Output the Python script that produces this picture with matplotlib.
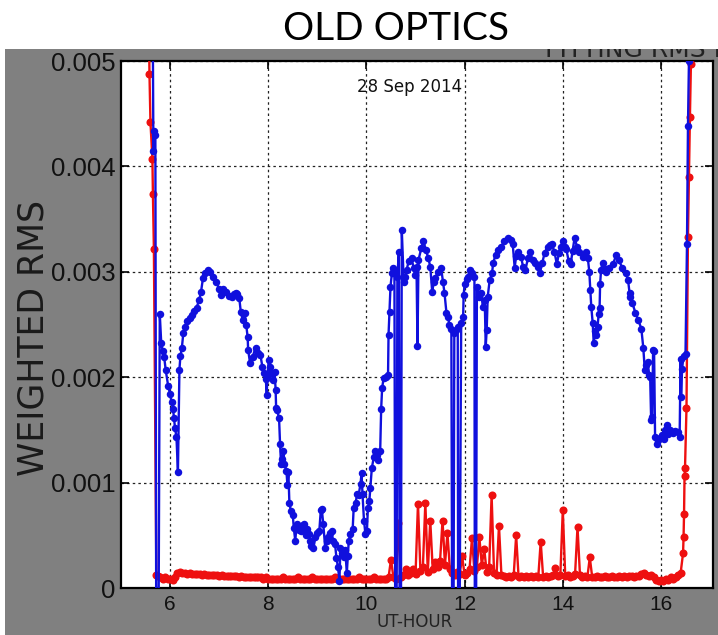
import numpy as np
import matplotlib
matplotlib.use("Agg")
import matplotlib.pyplot as plt
from matplotlib.patches import Rectangle

# ---------------- data (RMS values in units of 1e-3) ----------------
blue_hours = [
    5.60, 5.64, 5.66, 5.68, 5.70, 5.72, 5.76, 5.79, 5.82, 5.85,
    5.88, 5.91, 5.96, 6.00, 6.03, 6.06, 6.08, 6.10, 6.13, 6.16,
    6.19, 6.21, 6.24, 6.27, 6.31, 6.35, 6.40, 6.45, 6.49, 6.54,
    6.59, 6.63, 6.67, 6.72, 6.77, 6.82, 6.88, 6.94, 7.00, 7.04,
    7.08, 7.14, 7.20, 7.26, 7.31, 7.34, 7.37, 7.41, 7.44, 7.48,
    7.52, 7.55, 7.58, 7.59, 7.63, 7.68, 7.74, 7.79, 7.84, 7.88,
    7.91, 7.95, 7.97, 7.98, 8.01, 8.04, 8.06, 8.10, 8.13, 8.15,
    8.16, 8.18, 8.22, 8.24, 8.26, 8.29, 8.31, 8.33, 8.37, 8.39,
    8.41, 8.43, 8.46, 8.50, 8.52, 8.55, 8.58, 8.62, 8.66, 8.70,
    8.72, 8.76, 8.78, 8.82, 8.85, 8.87, 8.92, 8.96, 8.99, 9.04,
    9.07, 9.09, 9.12, 9.16, 9.19, 9.22, 9.26, 9.29, 9.32, 9.36,
    9.39, 9.42, 9.45, 9.47, 9.50, 9.54, 9.57, 9.60, 9.62, 9.64,
    9.67, 9.72, 9.74, 9.78, 9.81, 9.84, 9.88, 9.90, 9.92, 9.95,
    9.98, 10.01, 10.03, 10.06, 10.08, 10.11, 10.15, 10.18, 10.21, 10.24,
    10.28, 10.30, 10.32, 10.35, 10.40, 10.44, 10.45, 10.47, 10.49, 10.52,
    10.54, 10.57, 10.59, 10.61, 10.63, 10.66, 10.68, 10.70, 10.72, 10.76,
    10.79, 10.82, 10.86, 10.92, 10.96, 10.99, 11.02, 11.04, 11.06, 11.12,
    11.16, 11.21, 11.26, 11.30, 11.34, 11.37, 11.40, 11.46, 11.52, 11.56,
    11.59, 11.63, 11.66, 11.69, 11.73, 11.75, 11.77, 11.79, 11.82, 11.86,
    11.87, 11.89, 11.93, 11.97, 11.98, 12.00, 12.04, 12.07, 12.10, 12.15,
    12.20, 12.21, 12.23, 12.25, 12.29, 12.34, 12.37, 12.41, 12.43, 12.45,
    12.47, 12.51, 12.56, 12.58, 12.63, 12.68, 12.75, 12.81, 12.88, 12.95,
    12.98, 13.02, 13.05, 13.09, 13.15, 13.19, 13.24, 13.29, 13.33, 13.39,
    13.44, 13.49, 13.53, 13.58, 13.63, 13.69, 13.74, 13.78, 13.83, 13.88,
    13.92, 13.96, 14.00, 14.04, 14.07, 14.12, 14.16, 14.20, 14.24, 14.29,
    14.34, 14.41, 14.47, 14.51, 14.54, 14.56, 14.58, 14.61, 14.63, 14.66,
    14.68, 14.71, 14.73, 14.75, 14.76, 14.78, 14.81, 14.85, 14.88, 14.95,
    15.02, 15.09, 15.14, 15.21, 15.28, 15.33, 15.36, 15.37, 15.42, 15.48,
    15.54, 15.60, 15.64, 15.67, 15.70, 15.73, 15.76, 15.78, 15.80, 15.82,
    15.84, 15.86, 15.88, 15.91, 15.94, 15.98, 16.02, 16.06, 16.09, 16.12,
    16.15, 16.19, 16.24, 16.29, 16.34, 16.38, 16.40, 16.41, 16.43, 16.46,
    16.50, 16.53, 16.55, 16.57, 16.60,
]
blue_rms = [
    9.00, 6.00, 4.15, 4.34, 4.30, -1.0, -1.0, 2.60, 2.32, 2.25,
    2.19, 2.07, 1.92, 1.84, 1.76, 1.70, 1.61, 1.52, 1.43, 1.10,
    2.07, 2.20, 2.28, 2.42, 2.48, 2.53, 2.56, 2.59, 2.63, 2.66,
    2.73, 2.81, 2.94, 2.99, 3.02, 3.00, 2.95, 2.90, 2.84, 2.78,
    2.84, 2.81, 2.77, 2.76, 2.79, 2.80, 2.79, 2.75, 2.62, 2.54,
    2.61, 2.50, 2.38, 2.26, 2.13, 2.19, 2.28, 2.23, 2.21, 2.10,
    2.04, 1.98, 1.83, 2.00, 2.16, 2.10, 2.04, 1.97, 2.05, 1.88,
    1.71, 1.69, 1.61, 1.37, 1.18, 1.22, 1.30, 1.18, 1.11, 0.98,
    1.10, 0.81, 0.73, 0.69, 0.57, 0.45, 0.61, 0.55, 0.54, 0.60,
    0.61, 0.50, 0.56, 0.51, 0.45, 0.40, 0.38, 0.48, 0.52, 0.54,
    0.74, 0.75, 0.61, 0.38, 0.45, 0.48, 0.52, 0.54, 0.45, 0.42,
    0.28, 0.20, 0.07, 0.38, 0.33, 0.29, 0.36, 0.14, 0.30, 0.45,
    0.51, 0.56, 0.76, 0.81, 0.89, 0.88, 0.99, 1.09, 0.89, 0.64,
    0.51, 0.54, 0.76, 0.83, 0.95, 1.14, 1.24, 1.30, 1.26, 1.21,
    1.30, 1.70, 1.90, 1.99, 2.00, 2.02, 2.40, 2.62, 2.86, 2.99,
    3.04, 3.00, -1.0, -1.0, 2.95, 3.19, -1.0, -1.0, 3.40, 2.90,
    2.95, 3.02, 3.10, 3.13, 3.04, 2.97, 3.05, 2.30, 3.11, 3.23,
    3.29, 3.21, 3.13, 3.05, 2.81, 2.90, 2.94, 3.00, 3.04, 2.90,
    2.80, 2.61, 2.57, 2.50, 2.46, -1.0, -1.0, 2.42, 2.45, 2.48,
    -1.0, -1.0, 2.51, 2.57, 2.78, 2.88, 2.93, 2.95, 3.02, 2.99,
    2.95, -1.0, -1.0, 2.86, 2.76, 2.80, 2.67, 2.73, 2.29, 2.45,
    2.76, 2.92, 2.99, 3.08, 3.16, 3.21, 3.24, 3.29, 3.32, 3.30,
    3.26, 3.04, 3.15, 3.19, 3.14, 3.05, 3.02, 3.13, 3.19, 3.11,
    3.08, 3.05, 2.99, 3.08, 3.18, 3.24, 3.25, 3.26, 3.19, 3.07,
    3.18, 3.24, 3.29, 3.24, 3.22, 3.10, 3.07, 3.20, 3.32, 3.24,
    3.19, 3.14, 3.19, 3.13, 3.00, 2.83, 2.67, 2.51, 2.32, 2.44,
    2.40, 2.48, 2.60, 2.66, 2.88, 3.02, 3.08, 3.03, 3.00, 3.04,
    3.07, 3.16, 3.11, 3.04, 2.99, 2.92, 2.80, 2.76, 2.70, 2.61,
    2.54, 2.46, 2.28, 2.07, 2.12, 2.14, 2.02, 2.00, 1.59, 1.62,
    2.26, 2.25, 1.43, 1.37, 1.40, 1.42, 1.45, 1.41, 1.50, 1.55,
    1.46, 1.50, 1.47, 1.49, 1.48, 1.43, 2.17, 1.81, 2.08, 2.20,
    2.22, 3.26, 4.38, 5.00, 7.00,
]

red_hours = [
    5.55, 5.58, 5.60, 5.64, 5.65, 5.67, 5.72,
    5.75, 5.80, 5.85, 5.90, 5.95, 6.00, 6.05, 6.10, 6.15, 6.20,
    6.25, 6.30, 6.35, 6.40, 6.45, 6.50, 6.55, 6.60, 6.65, 6.70,
    6.75, 6.80, 6.85, 6.90, 6.95, 7.00, 7.05, 7.10, 7.15, 7.20,
    7.25, 7.30, 7.35, 7.40, 7.45, 7.50, 7.55, 7.60, 7.65, 7.70,
    7.75, 7.80, 7.85, 7.90, 7.95, 8.00, 8.05, 8.10, 8.15, 8.20,
    8.25, 8.30, 8.35, 8.40, 8.45, 8.50, 8.55, 8.60, 8.65, 8.70,
    8.75, 8.80, 8.85, 8.90, 8.95, 9.00, 9.05, 9.10, 9.15, 9.20,
    9.25, 9.30, 9.35, 9.40, 9.45, 9.50, 9.55, 9.60, 9.65, 9.70,
    9.75, 9.80, 9.85, 9.90, 9.95, 10.00, 10.05, 10.10, 10.15, 10.20,
    10.25, 10.30, 10.35, 10.40, 10.45, 10.50, 10.55, 10.60, 10.65, 10.70,
    10.75, 10.80, 10.85, 10.90, 10.95, 11.00, 11.05, 11.10, 11.15, 11.20,
    11.25, 11.30, 11.35, 11.40, 11.45, 11.50, 11.55, 11.60, 11.65, 11.70,
    11.75, 11.80, 11.85, 11.90, 11.95, 12.00, 12.05, 12.10, 12.15, 12.20,
    12.25, 12.30, 12.35, 12.40, 12.45, 12.50, 12.55, 12.60, 12.65, 12.70,
    12.75, 12.80, 12.85, 12.90, 12.95, 13.00, 13.05, 13.10, 13.15, 13.20,
    13.25, 13.30, 13.35, 13.40, 13.45, 13.50, 13.55, 13.60, 13.65, 13.70,
    13.75, 13.80, 13.85, 13.90, 13.95, 14.00, 14.05, 14.10, 14.15, 14.20,
    14.25, 14.30, 14.35, 14.40, 14.45, 14.50, 14.55, 14.60, 14.65, 14.70,
    14.75, 14.80, 14.85, 14.90, 14.95, 15.00, 15.05, 15.10, 15.15, 15.20,
    15.25, 15.30, 15.35, 15.40, 15.45, 15.50, 15.55, 15.60, 15.65, 15.70,
    15.75, 15.80, 15.85, 15.90, 15.95, 16.00, 16.05, 16.10, 16.15, 16.20,
    16.25, 16.30, 16.35, 16.40, 16.45, 16.46, 16.47, 16.48, 16.49, 16.52,
    16.55, 16.57, 16.59, 16.61, 16.64,
]
red_rms = [
    6.00, 4.88, 4.42, 4.07, 3.74, 3.22, 0.12,
    0.11, 0.10, 0.09, 0.10, 0.09, 0.09, 0.08, 0.10, 0.14, 0.15,
    0.14, 0.14, 0.13, 0.14, 0.13, 0.13, 0.13, 0.13, 0.12, 0.13,
    0.12, 0.12, 0.12, 0.12, 0.12, 0.11, 0.12, 0.11, 0.11, 0.11,
    0.11, 0.11, 0.11, 0.10, 0.11, 0.10, 0.10, 0.10, 0.10, 0.10,
    0.10, 0.10, 0.10, 0.09, 0.10, 0.09, 0.09, 0.09, 0.09, 0.09,
    0.09, 0.10, 0.09, 0.09, 0.09, 0.09, 0.09, 0.10, 0.09, 0.09,
    0.09, 0.09, 0.09, 0.10, 0.09, 0.09, 0.09, 0.09, 0.09, 0.09,
    0.09, 0.09, 0.10, 0.09, 0.09, 0.09, 0.09, 0.09, 0.09, 0.09,
    0.09, 0.09, 0.10, 0.09, 0.09, 0.09, 0.09, 0.09, 0.10, 0.09,
    0.09, 0.09, 0.09, 0.09, 0.10, 0.27, 0.10, 0.09, 0.62, 0.10,
    0.12, 0.18, 0.12, 0.14, 0.18, 0.13, 0.80, 0.16, 0.20, 0.81,
    0.15, 0.64, 0.18, 0.25, 0.20, 0.26, 0.64, 0.22, 0.52, 0.18,
    0.14, 0.12, 0.15, 0.13, 0.30, 0.12, 0.14, 0.18, 0.47, 0.16,
    0.20, 0.48, 0.22, 0.37, 0.15, 0.20, 0.88, 0.14, 0.12, 0.59,
    0.12, 0.11, 0.10, 0.11, 0.10, 0.12, 0.50, 0.10, 0.11, 0.10,
    0.11, 0.10, 0.11, 0.10, 0.11, 0.10, 0.44, 0.10, 0.11, 0.10,
    0.11, 0.12, 0.19, 0.11, 0.12, 0.74, 0.11, 0.12, 0.10, 0.11,
    0.13, 0.58, 0.12, 0.10, 0.11, 0.10, 0.29, 0.10, 0.10, 0.11,
    0.10, 0.10, 0.11, 0.10, 0.10, 0.11, 0.10, 0.10, 0.11, 0.10,
    0.11, 0.10, 0.11, 0.11, 0.10, 0.11, 0.11, 0.13, 0.14, 0.12,
    0.11, 0.12, 0.10, 0.08, 0.07, 0.08, 0.07, 0.09, 0.08, 0.10,
    0.09, 0.10, 0.12, 0.14, 0.33, 0.48, 0.70, 1.06, 1.14, 1.71,
    3.33, 3.90, 4.47, 4.97, 6.00,
]

y_ticks_milli = [0, 1, 2, 3, 4, 5]
y_tick_labels = ["0", "0.001", "0.002", "0.003", "0.004", "0.005"]
x_ticks = [6, 8, 10, 12, 14, 16]
x_tick_labels = ["6", "8", "10", "12", "14", "16"]

title_text = "OLD OPTICS"
top_text = "FITTING RMS FOR"
date_text = "28 Sep 2014"
xlabel_text = "UT-HOUR"
ylabel_text = "WEIGHTED RMS"

# ---------------- figure ----------------
W, H = 718, 635
fig = plt.figure(figsize=(W / 100, H / 100), dpi=100, facecolor="white")

# gray panel of the plot window
fig.patches.append(Rectangle((5 / W, 0), 1 - 5 / W, 1 - 49 / H, transform=fig.transFigure,
                             facecolor="#808080", edgecolor="none", zorder=-2))

ax = fig.add_axes([121 / W, 1 - 588 / H, (713 - 121) / W, (588 - 61) / H])
ax.set_facecolor("white")

blue_y = np.array(blue_rms) * 1e-3
red_y = np.array(red_rms) * 1e-3
ax.plot(red_hours, red_y, color="#ee1010", lw=1.7, marker="o", ms=5.8, mew=0, zorder=3)
ax.plot(blue_hours, blue_y, color="#1010dd", lw=1.7, marker="o", ms=5.4, mew=0, zorder=4)

ax.set_xlim(5.0, 17.06)
ax.set_ylim(0, 0.005)
ax.set_xticks(x_ticks)
ax.set_xticklabels(x_tick_labels)
ax.set_yticks(np.array(y_ticks_milli) * 1e-3)
ax.set_yticklabels(y_tick_labels)

ax.grid(True, color="#222222", linestyle=(0, (2, 2.5)), linewidth=0.9)
ax.set_axisbelow(True)
ax.tick_params(axis="both", direction="in", length=6, width=1.2, color="black",
               top=True, right=True)
ax.tick_params(axis="y", labelsize=18.5, pad=4, labelcolor="#111111")
ax.tick_params(axis="x", labelsize=15, pad=5, labelcolor="#111111")
for lab in ax.get_yticklabels() + ax.get_xticklabels():
    lab.set_family("Liberation Sans")
for s in ax.spines.values():
    s.set_linewidth(1.6)
    s.set_color("black")

ax.text(0.487, 0.95, date_text, transform=ax.transAxes, ha="center", va="center",
        fontsize=12, color="#111111")

fig.text(415 / W, 1 - 622 / H, xlabel_text, ha="center", va="center",
         fontsize=12, color="#222222")
fig.text(34 / W, 1 - 338 / H, ylabel_text, ha="center", va="center",
         rotation=90, fontsize=25, color="#1a1a1a")

# partially hidden heading at top right
fig.text(545 / W, 1 - 57 / H, top_text, ha="left", va="baseline",
         fontsize=18, color="#222222", zorder=1)
fig.patches.append(Rectangle((0, 1 - 49 / H), 1, 49 / H, transform=fig.transFigure,
                             facecolor="white", edgecolor="none", zorder=2))
fig.text(396 / W, 1 - 29 / H, title_text, ha="center", va="center",
         fontsize=28, family="Lato", color="black", zorder=3)

fig.savefig("out.png", dpi=100, facecolor="white")
